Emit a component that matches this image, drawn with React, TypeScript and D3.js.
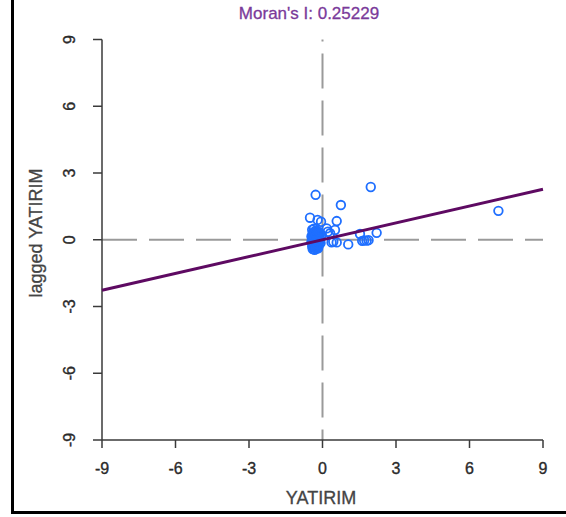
import React from "react";
import * as d3 from "d3";

const titleText = "Moran's I: 0.25229";
const xLabel = "YATIRIM";
const yLabel = "lagged YATIRIM";
const xTicks = [-9, -6, -3, 0, 3, 6, 9];
const yTicks = [-9, -6, -3, 0, 3, 6, 9];
const slope = 0.25229;
const intercept = 0;

// outlying points
const outerX = [1.97, -0.28, 0.75, 7.18, -0.51, -0.2, -0.06, 0.58, 0.17, 0.51, 0.31, 0.37, 0.58, 1.05, 1.53, 1.7, 1.8, 1.88, 2.21, 0.22, 0.44, 1.62];
const outerY = [2.37, 2.02, 1.56, 1.3, 0.99, 0.89, 0.81, 0.84, 0.51, 0.44, 0.29, -0.12, -0.12, -0.21, 0.26, -0.03, -0.04, -0.02, 0.31, 0.36, -0.09, -0.05];
// dense cluster near the origin
const clusterX = [-0.42, -0.35, -0.3, -0.25, -0.15, -0.1, -0.4, -0.45, -0.38, -0.3, -0.2, -0.12, -0.05, -0.42, -0.35, -0.28, -0.2, -0.1, -0.45, -0.4, -0.33, -0.25, -0.15, -0.08, -0.42, -0.36, -0.3, -0.22, -0.15, -0.4, -0.32, -0.25, -0.18, -0.28, -0.33, -0.37, -0.31, -0.24, -0.19, -0.13, -0.36, -0.29, -0.23, -0.17, -0.39, -0.34, -0.27, -0.21, -0.14, -0.38, -0.31, -0.26, -0.2, -0.35, -0.27, -0.22];
const clusterY = [0.45, 0.5, 0.38, 0.42, 0.35, 0.3, 0.3, 0.15, 0.2, 0.22, 0.18, 0.12, 0.2, 0.05, 0.0, 0.08, 0.02, -0.02, -0.1, -0.18, -0.12, -0.2, -0.1, -0.15, -0.3, -0.35, -0.28, -0.32, -0.25, -0.42, -0.45, -0.4, -0.38, -0.15, 0.12, 0.33, 0.29, 0.27, 0.25, 0.22, 0.1, 0.14, 0.1, 0.07, -0.05, -0.04, -0.06, -0.08, 0.0, -0.24, -0.22, -0.27, -0.21, -0.33, -0.36, -0.18];

export default function App() {
  const W = 566, H = 517;
  const x = d3.scaleLinear().domain([-9, 9]).range([102, 543]);
  const y = d3.scaleLinear().domain([-9, 9]).range([440, 39.5]);
  const font = "'Liberation Sans', Arial, sans-serif";
  const axisColor = "#3a3a3a";
  const pts = [
    ...clusterX.map((v, i) => [v, clusterY[i]]),
    ...outerX.map((v, i) => [v, outerY[i]]),
  ];
  const lineGen = d3.line<number>().x((d) => x(d)).y((d) => y(intercept + slope * d));
  const tickText = { fontFamily: font, fontSize: 16, fill: "#2a2a2a", stroke: "#2a2a2a", strokeWidth: 0.35 };
  return (
    <svg width={W} height={H} style={{ position: "absolute", left: 0, top: 0, background: "#fff" }}>
      {/* frame */}
      <line x1={12.5} y1={0} x2={12.5} y2={514} stroke="#000" strokeWidth={3} />
      <line x1={11} y1={512.5} x2={566} y2={512.5} stroke="#000" strokeWidth={3} />
      {/* title */}
      <text x={309} y={19} textAnchor="middle" fontFamily={font} fontSize={17} fill="#7a3a9a" stroke="#7a3a9a" strokeWidth={0.3}>{titleText}</text>
      {/* dashed reference lines */}
      <line x1={x(-9)} x2={x(9)} y1={y(0)} y2={y(0)} stroke="#9a9a9a" strokeWidth={2} strokeDasharray="35 12" />
      <line x1={x(0)} x2={x(0)} y1={y(9)} y2={y(-9)} stroke="#9a9a9a" strokeWidth={2} strokeDasharray="35 12" strokeDashoffset={33} />
      {/* axes */}
      <line x1={x(-9)} x2={x(9)} y1={440} y2={440} stroke={axisColor} strokeWidth={1.5} />
      <line x1={102} x2={102} y1={y(9)} y2={y(-9)} stroke={axisColor} strokeWidth={1.5} />
      {xTicks.map((t) => (
        <g key={"xt" + t}>
          <line x1={x(t)} x2={x(t)} y1={440} y2={448} stroke={axisColor} strokeWidth={1.5} />
          <text x={x(t)} y={474} textAnchor="middle" {...tickText}>{t < 0 ? "-" + Math.abs(t) : String(t)}</text>
        </g>
      ))}
      {yTicks.map((t) => (
        <g key={"yt" + t}>
          <line x1={93} x2={102} y1={y(t)} y2={y(t)} stroke={axisColor} strokeWidth={1.5} />
          <text transform={`translate(75,${y(t)}) rotate(-90)`} textAnchor="middle" {...tickText}>{t < 0 ? "-" + Math.abs(t) : String(t)}</text>
        </g>
      ))}
      <text x={321} y={504} textAnchor="middle" fontFamily={font} fontSize={18} fill="#444" stroke="#444" strokeWidth={0.3}>{xLabel}</text>
      <text transform={`translate(42,233) rotate(-90)`} textAnchor="middle" fontFamily={font} fontSize={18} fill="#444" stroke="#444" strokeWidth={0.3}>{yLabel}</text>
      {/* points */}
      {pts.map((p, i) => (
        <circle key={i} cx={x(p[0])} cy={y(p[1])} r={4.3} fill="none" stroke="#1f6fff" strokeWidth={1.8} />
      ))}
      {/* regression line */}
      <path d={lineGen([-9, 9]) || ""} stroke="#5e0a62" strokeWidth={3} fill="none" />
    </svg>
  );
}
